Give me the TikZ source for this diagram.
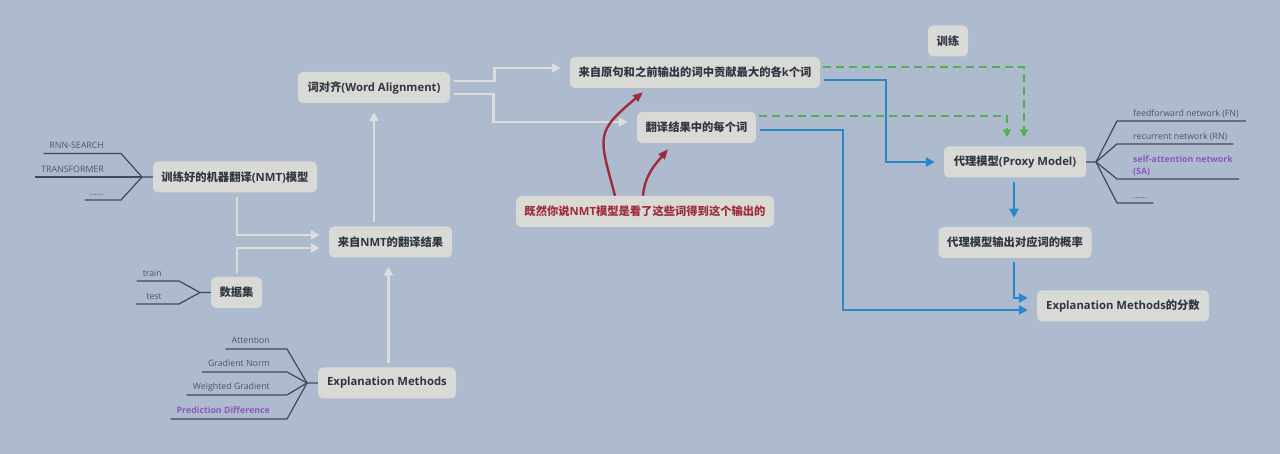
\documentclass[tikz,border=0pt]{standalone}
\usepackage{fontspec}
\setmainfont{Open Sans}
\newfontfamily\latin{Open Sans}
\newfontfamily\cjk{Noto Sans CJK SC}
\newcommand{\en}[1]{{\latin #1}}
\usetikzlibrary{arrows.meta,positioning}
\definecolor{bgcol}{RGB}{174,187,207}
\definecolor{boxfill}{RGB}{217,218,214}
\definecolor{boxtext}{RGB}{47,54,66}
\definecolor{linkgray}{RGB}{221,222,218}
\definecolor{leafcol}{RGB}{62,72,90}
\definecolor{leaftext}{RGB}{76,85,101}
\definecolor{purplecol}{RGB}{140,88,185}
\definecolor{redcol}{RGB}{158,44,60}
\definecolor{bluecol}{RGB}{40,134,202}
\definecolor{greencol}{RGB}{82,176,80}

\begin{document}
\begin{tikzpicture}[
  x=1pt, y=1pt,
  box/.style={fill=boxfill,rounded corners=5pt,minimum height=31pt,inner xsep=6pt,
              text=boxtext,font=\cjk\bfseries\fontsize{11.3}{13.5}\selectfont},
  leaf/.style={inner sep=0pt,text=leaftext,font=\latin\fontsize{8.8}{12}\selectfont},
  hot/.style={text=purplecol,font=\latin\bfseries\fontsize{8.8}{12}\selectfont},
  leafline/.style={draw=leafcol,line width=1.2pt},
  grayarrow/.style={draw=linkgray,line width=2.8pt,-{Triangle[length=9pt,width=9pt]},
                    shorten >=9pt,shorten <=4pt},
  bluearrow/.style={draw=bluecol,line width=2.4pt,-{Triangle[length=9pt,width=9pt]},
                    shorten >=9pt,shorten <=4pt},
  greenarrow/.style={draw=greencol,line width=2.2pt,dash pattern=on 8pt off 5pt,
                     -{Triangle[length=8pt,width=8pt]},shorten >=9pt,shorten <=3pt},
  redarrow/.style={draw=redcol,line width=2.4pt,-{Triangle[length=10pt,width=8pt]}}
]
\fill[bgcol] (0,0) rectangle (1280,454);

\node[box,minimum width=164pt] (nmt) at (235,277) {训练好的机器翻译\en{(NMT)}模型};
\node[box,minimum width=51pt] (data) at (236.5,161.5) {数据集};
\node[box,minimum width=123pt] (trans) at (390.5,212) {来自\en{NMT}的翻译结果};
\node[box,minimum width=152pt] (align) at (374,366.5) {词对齐\en{(Word Alignment)}};
\node[box,minimum width=250pt] (topk) at (695,381.5) {来自原句和之前输出的词中贡献最大的各\en{k}个词};
\node[box,minimum width=119pt] (each) at (696.5,326.5) {翻译结果中的每个词};
\node[box,minimum width=258pt,text=redcol] (hint) at (645,242.5) {既然你说\en{NMT}模型是看了这些词得到这个输出的};
\node[box,minimum width=40pt] (trainlabel) at (948,413) {训练};
\node[box,minimum width=142pt] (proxy) at (1015,292) {代理模型\en{(Proxy Model)}};
\node[box,minimum width=153pt,below=49pt of proxy] (prob) {代理模型输出对应词的概率};
\node[box,minimum width=172pt] (score) at (1123,148) {\en{Explanation Methods}的分数};
\node[box,minimum width=138pt] (expl) at (387,71) {\en{Explanation Methods}};

\node[leaf,anchor=base east] (rnnsearch) at (104,305) {RNN-SEARCH};
\node[leaf,anchor=base east] (transformer) at (104,281) {TRANSFORMER};
\node[leaf,anchor=base east] (moremodels) at (104,258) {......};
\coordinate (nmtfork) at (142,277);
\draw[leafline] ([shift={(-6,-4.5)}]rnnsearch.base west) -- ([shift={(17,-4.5)}]rnnsearch.base east) -- (nmtfork) -- (nmt.west);
\draw[leafline] ([shift={(-6,-4)}]transformer.base west) -- (nmtfork);
\draw[leafline] ([shift={(-5,-4)}]moremodels.base west) -- ([shift={(17,-4)}]moremodels.base east) -- (nmtfork);

\node[leaf,anchor=base east] (trainset) at (162,177) {train};
\node[leaf,anchor=base east] (testset) at (162,154) {test};
\coordinate (datafork) at (200,161.5);
\draw[leafline] ([shift={(-6,-4)}]trainset.base west) -- ([shift={(17,-4)}]trainset.base east) -- (datafork) -- (data.west);
\draw[leafline] ([shift={(-10,-4)}]testset.base west) -- ([shift={(17,-4)}]testset.base east) -- (datafork);

\node[leaf,anchor=base east] (attention) at (270,110) {Attention};
\node[leaf,anchor=base east] (gradnorm) at (270,87) {Gradient Norm};
\node[leaf,anchor=base east] (weightgrad) at (270,64) {Weighted Gradient};
\node[leaf,hot,anchor=base east] (preddiff) at (270,40) {Prediction Difference};
\coordinate (explfork) at (307,71);
\draw[leafline] ([shift={(-6,-5)}]attention.base west) -- ([shift={(17,-5)}]attention.base east) -- (explfork) -- (expl.west);
\draw[leafline] ([shift={(-6,-5)}]gradnorm.base west) -- ([shift={(17,-5)}]gradnorm.base east) -- (explfork);
\draw[leafline] ([shift={(-6,-5)}]weightgrad.base west) -- ([shift={(17,-5)}]weightgrad.base east) -- (explfork);
\draw[leafline] ([shift={(-6,-5)}]preddiff.base west) -- ([shift={(17,-5)}]preddiff.base east) -- (explfork);

\node[leaf,anchor=base west] (fnlabel) at (1133,337) {feedforward network (FN)};
\node[leaf,anchor=base west] (rnlabel) at (1133,314) {recurrent network (RN)};
\node[leaf,hot,anchor=south west,align=left] (salabel) at (1133,278) {self-attention network\\(SA)};
\node[leaf,anchor=base west] (morenets) at (1133,255) {......};
\coordinate (proxyfork) at (1096,292);
\draw[leafline] ([shift={(7,-4)}]fnlabel.base east) -- ([shift={(-16,-4)}]fnlabel.base west) -- (proxyfork) -- (proxy.east);
\draw[leafline] ([shift={(6,-4)}]rnlabel.base east) -- ([shift={(-16,-4)}]rnlabel.base west) -- (proxyfork);
\draw[leafline] ([shift={(6,-3)}]salabel.south east) -- ([shift={(-16,-3)}]salabel.south west) -- (proxyfork);
\draw[leafline] ([shift={(6,-4)}]morenets.base east) -- ([shift={(-16,-4)}]morenets.base west) -- (proxyfork);

\draw[grayarrow] ([xshift=2]nmt.south) |- ([yshift=7]trans.west);
\draw[grayarrow] ([xshift=0.5]data.north) |- ([yshift=-6]trans.west);
\draw[grayarrow] ([xshift=1.5]expl.north) -- ([xshift=1.5]expl.north |- trans.south);
\draw[grayarrow] (align.south |- trans.north) -- (align.south);
\draw[grayarrow] ([yshift=6.5]align.east) -- ++(44,0) |- ([yshift=4.5]topk.west);
\draw[grayarrow] ([yshift=-6.5]align.east) -- ++(43,0) |- ([yshift=5.5]each.west);

\draw[bluearrow] ([yshift=-7.5]topk.east) -- ++(66,0) |- (proxy.west);
\draw[bluearrow] ([yshift=-2.5]each.east) -- ++(87,0) |- ([yshift=-4]score.west);
\draw[bluearrow] ([xshift=-1]proxy.south) -- ([xshift=-1]proxy.south |- prob.north);
\draw[bluearrow] ([xshift=-1]prob.south) |- ([yshift=8]score.west);

\draw[greenarrow] ([yshift=5.5]topk.east) -| ([xshift=9]proxy.north);
\draw[greenarrow] ([yshift=11.5]each.east) -| ([xshift=-8]proxy.north);

\draw[redarrow] ([xshift=-30]hint.north) to[out=105,in=220,looseness=1.5] ([xshift=-52,yshift=-4]topk.south);
\draw[redarrow] ([xshift=-2]hint.north) to[out=85,in=230] ([xshift=-28.5,yshift=-6]each.south);
\end{tikzpicture}
\end{document}
